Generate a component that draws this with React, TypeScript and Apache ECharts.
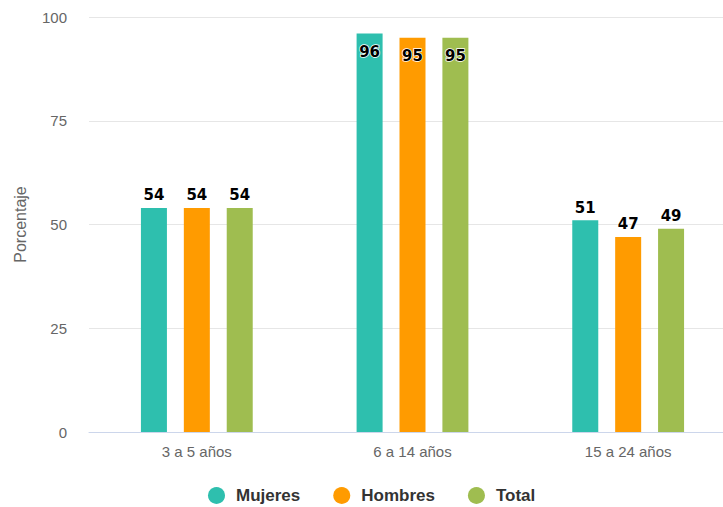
import React, { useEffect, useRef } from "react";
import * as echarts from "echarts";

const categories = ["3 a 5 años", "6 a 14 años", "15 a 24 años"];
const mujeres = [54, 96, 51];
const hombres = [54, 95, 47];
const total = [54, 95, 49];
const yTicks = { min: 0, max: 100, interval: 25 };

const seriesDefs = [
  { name: "Mujeres", data: mujeres, color: "#2ebfae" },
  { name: "Hombres", data: hombres, color: "#ff9b00" },
  { name: "Total", data: total, color: "#9fbd50" },
];

const labelFont = {
  fontFamily: "DejaVu Sans",
  fontWeight: "bold" as const,
  fontSize: 15,
  color: "#000",
  textBorderColor: "#fff",
  textBorderWidth: 1.5,
};

// The plot runs a little past the visible frame on the right, so the chart
// canvas is wider than the clipping box around it.
const FRAME_W = 723;
const FRAME_H = 507;
const CANVAS_W = 736;

export default function App() {
  const ref = useRef<HTMLDivElement>(null);

  useEffect(() => {
    if (!ref.current) return;
    const chart = echarts.init(ref.current, undefined, { renderer: "svg" });
    chart.setOption({
      animation: false,
      grid: { left: 89, right: 0, top: 17, bottom: 75, containLabel: false },
      legend: {
        top: 482,
        left: 203,
        icon: "circle",
        itemWidth: 17,
        itemHeight: 17,
        itemGap: 33,
        textStyle: {
          fontFamily: "Liberation Sans",
          fontWeight: "bold",
          fontSize: 17,
          color: "#333",
          padding: [0, 0, 0, 6],
        },
        data: seriesDefs.map((s) => s.name),
      },
      xAxis: {
        type: "category",
        data: categories,
        axisLine: { lineStyle: { color: "#ccd6eb" } },
        axisTick: { show: false },
        axisLabel: {
          fontFamily: "Liberation Sans",
          fontSize: 15,
          color: "#666",
          margin: 12,
        },
      },
      yAxis: {
        type: "value",
        min: yTicks.min,
        max: yTicks.max,
        interval: yTicks.interval,
        name: "Porcentaje",
        nameLocation: "middle",
        nameGap: 61,
        nameTextStyle: {
          fontFamily: "Liberation Sans",
          fontSize: 16,
          color: "#666",
        },
        axisLine: { show: false },
        axisTick: { show: false },
        splitLine: { lineStyle: { color: "#e6e6e6" } },
        axisLabel: {
          fontFamily: "Liberation Sans",
          fontSize: 15,
          color: "#666",
          margin: 22,
        },
      },
      series: seriesDefs.map((s) => ({
        name: s.name,
        type: "bar",
        barWidth: 26,
        barGap: "65%",
        itemStyle: { color: s.color },
        label: { show: true, position: "top", distance: 5, ...labelFont },
        data: s.data.map((v) =>
          v > 90
            ? { value: v, label: { position: "insideTop", distance: 11 } }
            : v
        ),
      })),
    });
    return () => chart.dispose();
  }, []);

  return (
    <div
      style={{
        position: "fixed",
        left: 0,
        top: 0,
        width: FRAME_W,
        height: FRAME_H,
        overflow: "hidden",
        background: "#fff",
      }}
    >
      <div ref={ref} style={{ width: CANVAS_W, height: FRAME_H }} />
    </div>
  );
}
